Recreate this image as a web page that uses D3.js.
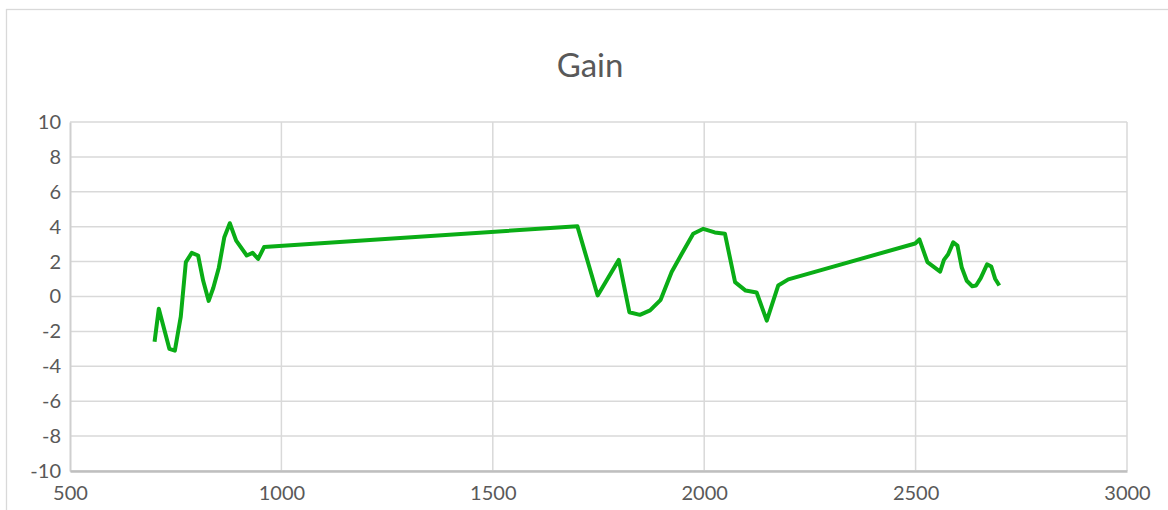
<!DOCTYPE html>
<html>
<head>
<meta charset="utf-8">
<script src="https://cdn.jsdelivr.net/npm/d3@7"></script>
<style>
  body { margin: 0; background: #fff; }
  svg text { font-family: Lato, "Open Sans", sans-serif; fill: #595959; }
</style>
</head>
<body>
<svg id="chart" width="1168" height="510"></svg>
<script>
var freq = [700, 710, 735, 748, 762, 774, 788, 803, 815, 828, 839, 852, 865, 878, 893, 918, 932, 945, 959,
            1700, 1748, 1798, 1823, 1848, 1872, 1897, 1923, 1947, 1974, 1998, 2025, 2049, 2073, 2098, 2124, 2148, 2175, 2199,
            2499, 2509, 2528, 2558, 2567, 2577, 2589, 2599, 2609, 2621, 2634, 2643, 2654, 2669, 2679, 2688, 2698];
var gain = [-2.6, -0.7, -3.0, -3.1, -1.15, 1.97, 2.5, 2.35, 0.9, -0.25, 0.5, 1.65, 3.4, 4.2, 3.2, 2.35, 2.5, 2.15, 2.83,
            4.03, 0.06, 2.1, -0.9, -1.05, -0.8, -0.19, 1.4, 2.45, 3.6, 3.88, 3.67, 3.6, 0.82, 0.34, 0.23, -1.38, 0.63, 0.98,
            3.04, 3.27, 1.97, 1.43, 2.1, 2.42, 3.1, 2.92, 1.68, 0.9, 0.59, 0.63, 1.05, 1.84, 1.72, 1.02, 0.63];
var xTicks = [500, 1000, 1500, 2000, 2500, 3000];
var yTicks = [-10, -8, -6, -4, -2, 0, 2, 4, 6, 8, 10];
var title = "Gain";

var svg = d3.select("#chart"),
    MARGINS = { top: 122, right: 41, bottom: 39, left: 70 },
    WIDTH = 1168, HEIGHT = 510;

var xScale = d3.scaleLinear().domain([500, 3000]).range([MARGINS.left, WIDTH - MARGINS.right]);
var yScale = d3.scaleLinear().domain([-10, 10]).range([HEIGHT - MARGINS.bottom, MARGINS.top]);

// outer chart border (runs off the right/bottom edge)
svg.append("rect")
   .attr("x", 6.5).attr("y", 9.5)
   .attr("width", 1200).attr("height", 600)
   .attr("fill", "none").attr("stroke", "#d9d9d9").attr("stroke-width", 1.3);

// gridlines
svg.append("g").selectAll("line")
   .data(yTicks).enter().append("line")
   .attr("x1", MARGINS.left).attr("x2", WIDTH - MARGINS.right)
   .attr("y1", function(d) { return yScale(d); })
   .attr("y2", function(d) { return yScale(d); })
   .attr("stroke", "#d9d9d9").attr("stroke-width", 1.5);

svg.append("g").selectAll("line")
   .data(xTicks.slice(1)).enter().append("line")
   .attr("x1", function(d) { return xScale(d); })
   .attr("x2", function(d) { return xScale(d); })
   .attr("y1", MARGINS.top).attr("y2", HEIGHT - MARGINS.bottom)
   .attr("stroke", "#d9d9d9").attr("stroke-width", 1.5);

// axes - plain hyphen minus, no thousands separator
var plain = function(d) { return String(d); };
var yAxis = d3.axisLeft(yScale).tickValues(yTicks).tickFormat(plain).tickSize(0).tickPadding(9);
var xAxis = d3.axisBottom(xScale).tickValues(xTicks).tickFormat(plain).tickSize(0).tickPadding(15);

var gy = svg.append("g")
   .attr("transform", "translate(" + MARGINS.left + ",0)")
   .call(yAxis);
gy.select(".domain").attr("stroke", "#cfcfcf").attr("stroke-width", 2);
gy.selectAll("text").style("font-size", "20px");

var gx = svg.append("g")
   .attr("transform", "translate(0," + (HEIGHT - MARGINS.bottom) + ")")
   .call(xAxis);
gx.select(".domain").attr("stroke", "#bfbfbf").attr("stroke-width", 2.5);
gx.selectAll("text").style("font-size", "20px");

// title
svg.append("text")
   .attr("x", 590).attr("y", 77)
   .attr("text-anchor", "middle")
   .style("font-size", "33px")
   .text(title);

// data line
var data = freq.map(function(f, i) { return { f: f, g: gain[i] }; });
var lineGen = d3.line()
    .x(function(d) { return xScale(d.f); })
    .y(function(d) { return yScale(d.g); });

svg.append("path")
   .attr("d", lineGen(data))
   .attr("stroke", "#0aad16")
   .attr("stroke-width", 4)
   .attr("stroke-linejoin", "round")
   .attr("fill", "none");
</script>
</body>
</html>
